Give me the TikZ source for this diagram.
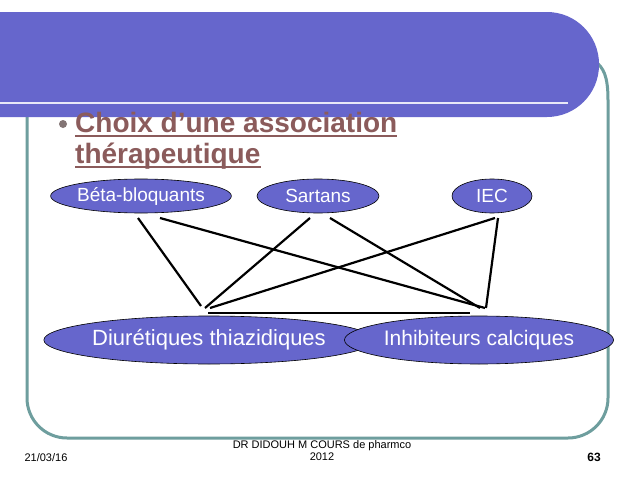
\documentclass[tikz,border=0pt]{standalone}
\usepackage{fontspec}
\setmainfont{Liberation Sans}
\usetikzlibrary{shapes.geometric}
\definecolor{band}{HTML}{6666CC}
\definecolor{frame}{HTML}{6E9E9E}
\definecolor{ttl}{HTML}{8B5B5B}
\begin{document}
\begin{tikzpicture}[x=1pt,y=-1pt,
  ell/.style={ellipse,draw=black,semithick,fill=band,text=white,inner sep=0pt,font=\fontsize{19}{19}\selectfont},
  link/.style={line width=2.2pt},
  ttlt/.style={anchor=base west,text=ttl,font=\fontsize{28}{30}\selectfont\bfseries,inner sep=0pt}]
\useasboundingbox (0,0) rectangle (638,479);
\fill[white] (0,0) rectangle (638,479);
% frame
\draw[frame,line width=3pt,rounded corners=40] (27,100) -- (27,438) -- (608,438) -- (608,100);
\draw[frame,line width=3pt] (608,100) .. controls (608,75) and (603,68) .. (596,62);
% band
\fill[band,rounded corners=52] (-100,12) -- (599,12) -- (599,117) -- (-100,117) -- cycle;
\draw[white!85!band,line width=1.5pt] (0,103) -- (568,103);
% title
\fill[gray!70!ttl] (63,124) circle (4);
\node[ttlt] (t1) at (75,132) {Choix d’une association};
\node[ttlt] (t2) at (75,163) {thérapeutique};
\draw[ttl,line width=1.4pt] ([yshift=-4]t1.base west) -- ([yshift=-4]t1.base east);
\draw[ttl,line width=1.4pt] ([yshift=-4]t2.base west) -- ([yshift=-4]t2.base east);
% nodes
\node[ell,minimum width=172,minimum height=34] (bb) at (141,196) {Béta-bloquants};
\node[ell,minimum width=122,minimum height=34] (sa) at (318,196) {Sartans};
\node[ell,minimum width=80,minimum height=34] (ie) at (492,196) {IEC};
\node[ell,minimum width=272,minimum height=48,font=\fontsize{22}{22}\selectfont] (di) at (209,340) {Diurétiques thiazidiques};
\node[ell,minimum width=218,minimum height=48,font=\fontsize{21}{21}\selectfont] (ic) at (479,340) {Inhibiteurs calciques};
% connector ends
\coordinate (b1) at (138,218); \coordinate (b2) at (160,218);
\coordinate (s1) at (310,218); \coordinate (s2) at (330,218);
\coordinate (i1) at (495,218); \coordinate (i2) at (498,218);
\coordinate (d1) at (201,306); \coordinate (d2) at (205,308); \coordinate (d3) at (210,308);
\coordinate (c1) at (485,308); \coordinate (c2) at (480,308); \coordinate (c3) at (486,308);
\coordinate (dh) at (208,313); \coordinate (ch) at (470,313);
\draw[link] (b1) -- (d1);
\draw[link] (b2) -- (c1);
\draw[link] (s1) -- (d2);
\draw[link] (s2) -- (c2);
\draw[link] (i1) -- (d3);
\draw[link] (i2) -- (c3);
\draw[link] (dh) -- (ch);
% footer
\node[font=\fontsize{11}{12}\selectfont] (dt) at (46,458) {21/03/16};
\node[font=\fontsize{11}{12}\selectfont,align=center] (au) at (322,451) {DR DIDOUH M COURS de pharmco\\2012};
\node[font=\fontsize{12}{12}\selectfont\bfseries] (pg) at (594,457) {63};
\end{tikzpicture}
\end{document}
